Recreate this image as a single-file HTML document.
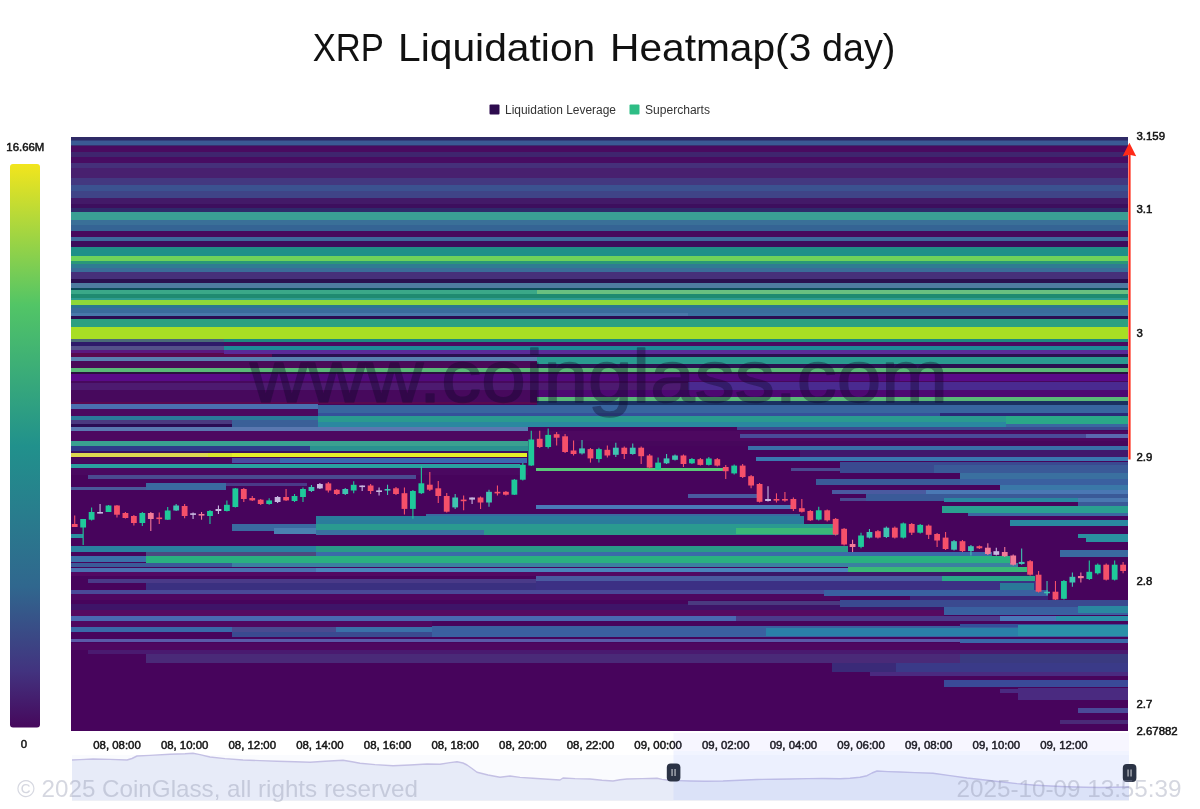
<!DOCTYPE html>
<html lang="en"><head><meta charset="utf-8"><title>XRP Liquidation Heatmap(3 day)</title>
<style>
html,body{margin:0;padding:0;background:#fff;}
body{width:1200px;height:809px;overflow:hidden;position:relative;font-family:"Liberation Sans", sans-serif;}
svg{position:absolute;left:0;top:0;display:block;}
text{font-family:"Liberation Sans", sans-serif;}
</style></head><body>
<svg width="1200" height="809" viewBox="0 0 1200 809">
<defs>
<linearGradient id="vm" x1="0" y1="0" x2="0" y2="1">
<stop offset="0" stop-color="#f2e51d"/>
<stop offset="0.25" stop-color="#52c566"/>
<stop offset="0.5" stop-color="#21918c"/>
<stop offset="0.75" stop-color="#30678e"/>
<stop offset="0.9" stop-color="#42337f"/>
<stop offset="1" stop-color="#46085c"/>
</linearGradient>
<clipPath id="plot"><rect x="71" y="137" width="1057" height="594"/></clipPath>
</defs>
<rect x="0" y="0" width="1200" height="809" fill="#ffffff"/>
<text x="312.7" y="60.8" font-size="39.5" fill="#111" textLength="71.2" lengthAdjust="spacingAndGlyphs">XRP</text>
<text x="398" y="60.8" font-size="39.5" fill="#111" textLength="197.3" lengthAdjust="spacingAndGlyphs">Liquidation</text>
<text x="610" y="60.8" font-size="39.5" fill="#111" textLength="201.3" lengthAdjust="spacingAndGlyphs">Heatmap(3</text>
<text x="822" y="60.8" font-size="39.5" fill="#111" textLength="73.3" lengthAdjust="spacingAndGlyphs">day)</text>
<rect x="489.5" y="104.5" width="10" height="10" rx="1" fill="#2d0b4e"/>
<text x="505" y="113.5" font-size="12" fill="#333" textLength="111" lengthAdjust="spacingAndGlyphs">Liquidation Leverage</text>
<rect x="629.5" y="104.5" width="10" height="10" rx="1" fill="#2ebd85"/>
<text x="645" y="113.5" font-size="12" fill="#333" textLength="65" lengthAdjust="spacingAndGlyphs">Supercharts</text>
<text x="6.3" y="150.9" font-size="11.4" fill="#151515" stroke="#151515" stroke-width="0.5">16.66M</text>
<rect x="10" y="164" width="30" height="563.5" rx="3" fill="url(#vm)"/>
<text x="24" y="748.3" font-size="11.4" fill="#151515" stroke="#151515" stroke-width="0.5" text-anchor="middle">0</text>
<g clip-path="url(#plot)" shape-rendering="crispEdges">
<rect x="71" y="137" width="1057" height="594" fill="#47045c"/>
<rect x="71" y="137" width="1057" height="2.5" fill="#2f2a66"/>
<rect x="71" y="139.5" width="1057" height="1.5" fill="#33407c"/>
<rect x="71" y="141" width="1057" height="4" fill="#3b5a94"/>
<rect x="71" y="145" width="1057" height="1" fill="#3a3070"/>
<rect x="71" y="146" width="1057" height="6" fill="#4a0b60"/>
<rect x="71" y="152" width="1057" height="5" fill="#3f256e"/>
<rect x="71" y="157" width="1057" height="5.5" fill="#480c62"/>
<rect x="71" y="162.5" width="1057" height="5" fill="#45307a"/>
<rect x="71" y="167.5" width="1057" height="10" fill="#48206f"/>
<rect x="71" y="177.5" width="1057" height="7.5" fill="#433880"/>
<rect x="71" y="185" width="1057" height="6" fill="#3b5290"/>
<rect x="71" y="191" width="1057" height="7" fill="#3f4487"/>
<rect x="71" y="198" width="1057" height="6" fill="#431a68"/>
<rect x="71" y="204" width="1057" height="4" fill="#3d0f5e"/>
<rect x="71" y="208" width="1057" height="4" fill="#2f2a6a"/>
<rect x="71" y="212" width="1057" height="8" fill="#3a9f94"/>
<rect x="71" y="220" width="1057" height="5" fill="#3a7098"/>
<rect x="71" y="225" width="1057" height="6" fill="#356494"/>
<rect x="71" y="231" width="1057" height="6" fill="#47095d"/>
<rect x="71" y="237" width="1057" height="4" fill="#3d6a9c"/>
<rect x="71" y="241" width="1057" height="6" fill="#3d0d5c"/>
<rect x="71" y="247" width="1057" height="9" fill="#1f9088"/>
<rect x="71" y="256" width="1057" height="5" fill="#6fd25a"/>
<rect x="71" y="261" width="1057" height="3" fill="#2a9878"/>
<rect x="71" y="264" width="1057" height="4" fill="#2f7c92"/>
<rect x="71" y="268" width="1057" height="3.5" fill="#3a6c98"/>
<rect x="71" y="271.5" width="1057" height="7.5" fill="#46307a"/>
<rect x="71" y="279" width="1057" height="3.5" fill="#2a1050"/>
<rect x="71" y="282.5" width="1057" height="5" fill="#4e7ba0"/>
<rect x="71" y="287.5" width="1057" height="2.5" fill="#0e4a5a"/>
<rect x="71" y="290" width="1057" height="4" fill="#3aa888"/>
<rect x="537" y="290" width="591" height="3.7" fill="#6ac080"/>
<rect x="71" y="294" width="1057" height="3.5" fill="#1f8a70"/>
<rect x="71" y="297.5" width="1057" height="2.5" fill="#2e9c90"/>
<rect x="71" y="300" width="1057" height="4.5" fill="#8ed83a"/>
<rect x="71" y="304.5" width="1057" height="3.5" fill="#2a7890"/>
<rect x="71" y="308" width="1057" height="4.5" fill="#3a6c9c"/>
<rect x="71" y="312.5" width="1057" height="3" fill="#4878aa"/>
<rect x="688" y="312.5" width="440" height="3" fill="#3a70a0"/>
<rect x="71" y="315.5" width="1057" height="3.5" fill="#2b0d52"/>
<rect x="71" y="319" width="1057" height="7.5" fill="#2ca080"/>
<rect x="71" y="326.5" width="1057" height="12" fill="#a8de24"/>
<rect x="71" y="338.5" width="153" height="3" fill="#4a6a78"/>
<rect x="224" y="338.5" width="904" height="3" fill="#1f8a80"/>
<rect x="71" y="341.5" width="153" height="4.5" fill="#2e1a6a"/>
<rect x="224" y="341.5" width="904" height="4.3" fill="#4a0a60"/>
<rect x="71" y="346" width="153" height="4" fill="#54508a"/>
<rect x="224" y="345.8" width="904" height="4.2" fill="#1f8a98"/>
<rect x="71" y="350" width="153" height="2.5" fill="#5a1a80"/>
<rect x="71" y="352.5" width="201" height="4" fill="#5a0a50"/>
<rect x="224" y="350" width="904" height="4" fill="#5a2a98"/>
<rect x="272" y="354" width="856" height="2.5" fill="#2a1050"/>
<rect x="71" y="356.5" width="466" height="4" fill="#5a80b0"/>
<rect x="71" y="360.5" width="466" height="7" fill="#4a0a58"/>
<rect x="537" y="356.5" width="591" height="7" fill="#2a9a90"/>
<rect x="537" y="363.5" width="591" height="4" fill="#2a1050"/>
<rect x="71" y="367.5" width="1057" height="4" fill="#5ab878"/>
<rect x="71" y="371.5" width="1057" height="2.5" fill="#2a1040"/>
<rect x="71" y="374" width="1057" height="7" fill="#5a0a88"/>
<rect x="240" y="374" width="660" height="7" fill="#520a7c"/>
<rect x="71" y="381" width="1057" height="20.5" fill="#47095d"/>
<rect x="71" y="383" width="1057" height="7" fill="#4d1a70"/>
<rect x="688" y="382" width="440" height="8" fill="#4a2a90"/>
<rect x="537" y="390" width="591" height="6.7" fill="#4e0872"/>
<rect x="537" y="397" width="591" height="3.8" fill="#5ab878"/>
<rect x="71" y="401.5" width="466" height="2.5" fill="#5a0a50"/>
<rect x="537" y="400.8" width="591" height="3.7" fill="#1a3060"/>
<rect x="71" y="404" width="247" height="4.5" fill="#4a70b0"/>
<rect x="71" y="408.5" width="247" height="7.5" fill="#4a0a60"/>
<rect x="318" y="404.5" width="810" height="8" fill="#38659f"/>
<rect x="318" y="412.5" width="810" height="3.3" fill="#34509a"/>
<rect x="940" y="412.5" width="188" height="3.3" fill="#2a2a78"/>
<rect x="71" y="416" width="247" height="4" fill="#2a7a9a"/>
<rect x="71" y="420" width="161" height="3.5" fill="#4a3a80"/>
<rect x="71" y="423.5" width="161" height="3" fill="#2a0d55"/>
<rect x="232" y="420" width="86" height="6.5" fill="#3a6098"/>
<rect x="318" y="415.8" width="810" height="5.7" fill="#2a9a90"/>
<rect x="318" y="421.5" width="810" height="5.2" fill="#2a88a0"/>
<rect x="1006" y="415.8" width="122" height="8.2" fill="#2aa888"/>
<rect x="1006" y="424" width="122" height="3.5" fill="#3a68a0"/>
<rect x="71" y="426.5" width="457" height="4.5" fill="#5a78b0"/>
<rect x="737" y="426.7" width="391" height="3.3" fill="#3a4a90"/>
<rect x="71" y="431" width="1057" height="10" fill="#4d0860"/>
<rect x="740" y="434" width="388" height="4" fill="#4a4a98"/>
<rect x="1086" y="434" width="42" height="4" fill="#5a68b0"/>
<rect x="71" y="441" width="457" height="5" fill="#3aa090"/>
<rect x="71" y="446" width="239" height="5" fill="#303a8a"/>
<rect x="310" y="446" width="218" height="5.6" fill="#2a9090"/>
<rect x="71" y="451" width="457" height="1.5" fill="#3a1060"/>
<rect x="71" y="452.5" width="137" height="4.8" fill="#dcd850"/>
<rect x="208" y="452.5" width="24" height="4.8" fill="#d8e42c"/>
<rect x="232" y="452.5" width="295" height="4.8" fill="#e4f028"/>
<rect x="71" y="457.5" width="161" height="5.5" fill="#47095d"/>
<rect x="232" y="457.5" width="48" height="5" fill="#4a4aa0"/>
<rect x="280" y="457.5" width="247" height="5.5" fill="#3a68b0"/>
<rect x="71" y="464" width="449" height="3.8" fill="#2aa0a0"/>
<rect x="71" y="468" width="457" height="7" fill="#4a0860"/>
<rect x="528" y="441" width="600" height="4.8" fill="#47075c"/>
<rect x="748" y="445.8" width="380" height="4.2" fill="#3a70a8"/>
<rect x="800" y="450" width="328" height="6.7" fill="#40186c"/>
<rect x="756" y="456.7" width="372" height="4.3" fill="#3a78b0"/>
<rect x="536" y="468" width="188" height="3" fill="#5ac878"/>
<rect x="88" y="475" width="328" height="4" fill="#4a4a90"/>
<rect x="71" y="486.5" width="75" height="3.5" fill="#4a5a9a"/>
<rect x="146" y="483" width="80" height="7" fill="#3a6aa0"/>
<rect x="226" y="482.5" width="81" height="3.5" fill="#4a3a88"/>
<rect x="791" y="467.7" width="337" height="2.8" fill="#4a4a90"/>
<rect x="840" y="462" width="288" height="11" fill="#3a4a90"/>
<rect x="934" y="465" width="194" height="8" fill="#3a5a98"/>
<rect x="960" y="473" width="168" height="6" fill="#3a70a0"/>
<rect x="816" y="479" width="312" height="6" fill="#3a5a98"/>
<rect x="960" y="479" width="168" height="6" fill="#3a60a0"/>
<rect x="1000" y="485" width="128" height="5" fill="#3a78a8"/>
<rect x="832" y="490" width="296" height="4" fill="#4a5aa0"/>
<rect x="926" y="490" width="202" height="4.5" fill="#4a78b4"/>
<rect x="960" y="494.5" width="168" height="3" fill="#402070"/>
<rect x="866" y="494" width="262" height="7" fill="#3a5a98"/>
<rect x="840" y="497.8" width="26" height="3.2" fill="#4a4a90"/>
<rect x="944" y="497.8" width="184" height="4.2" fill="#2a88a0"/>
<rect x="1078" y="497.8" width="50" height="4.2" fill="#4a78b0"/>
<rect x="1078" y="502" width="50" height="3.6" fill="#3a5a98"/>
<rect x="942" y="505.6" width="186" height="6.9" fill="#2aa090"/>
<rect x="968" y="512.5" width="160" height="3" fill="#3a68a0"/>
<rect x="1010" y="520" width="118" height="6.4" fill="#2a88a0"/>
<rect x="1078" y="534" width="50" height="3.5" fill="#2a90a0"/>
<rect x="1086" y="537.5" width="42" height="4.1" fill="#2a90a0"/>
<rect x="1060" y="549.6" width="68" height="7.4" fill="#3a6aa0"/>
<rect x="688" y="494" width="69" height="3.5" fill="#4a5aa0"/>
<rect x="536" y="505" width="256" height="4" fill="#4a7ab8"/>
<rect x="71" y="572.4" width="629" height="3.6" fill="#520862"/>
<rect x="71" y="594" width="769" height="6" fill="#4e0860"/>
<rect x="71" y="609.5" width="873" height="6" fill="#560a60"/>
<rect x="71" y="620.5" width="361" height="6" fill="#500860"/>
<rect x="71" y="642.5" width="1057" height="7.5" fill="#4e0860"/>
<rect x="71" y="534" width="12" height="4" fill="#2a90a0"/>
<rect x="232" y="524" width="84" height="7" fill="#3a6aa0"/>
<rect x="274" y="528" width="42" height="6" fill="#4a80b0"/>
<rect x="426" y="514" width="374" height="4" fill="#3a6aa0"/>
<rect x="316" y="516" width="488" height="7.5" fill="#2a7c9c"/>
<rect x="316" y="523.5" width="517" height="6.5" fill="#2a9a90"/>
<rect x="316" y="530" width="168" height="5" fill="#3a70a0"/>
<rect x="484" y="530" width="354" height="5" fill="#2a9a88"/>
<rect x="736" y="528" width="97" height="6" fill="#3ab878"/>
<rect x="71" y="546" width="245" height="5.5" fill="#2a80a0"/>
<rect x="316" y="546" width="532" height="5.5" fill="#2a9a88"/>
<rect x="146" y="551.5" width="170" height="4.8" fill="#4a4a80"/>
<rect x="316" y="551.5" width="676" height="4.8" fill="#3a6aa8"/>
<rect x="71" y="556.3" width="75" height="5.7" fill="#3a70a8"/>
<rect x="146" y="556.3" width="864" height="6.2" fill="#2ab080"/>
<rect x="71" y="562.5" width="161" height="4.5" fill="#3a5a98"/>
<rect x="232" y="562.5" width="786" height="4.5" fill="#3a80a0"/>
<rect x="71" y="567.5" width="245" height="4.8" fill="#4a70b0"/>
<rect x="316" y="567.5" width="532" height="4.8" fill="#4a84bc"/>
<rect x="848" y="567" width="179" height="5.5" fill="#3ab878"/>
<rect x="700" y="572.3" width="334" height="3.7" fill="#3a1868"/>
<rect x="88" y="579" width="448" height="4" fill="#4a3a88"/>
<rect x="536" y="576" width="406" height="4.5" fill="#4a5aa0"/>
<rect x="942" y="576" width="93" height="4.5" fill="#2aa888"/>
<rect x="146" y="583" width="894" height="7" fill="#3a3080"/>
<rect x="536" y="580.5" width="502" height="9.5" fill="#3c3084"/>
<rect x="1000" y="583" width="34" height="7" fill="#2a7898"/>
<rect x="71" y="590" width="975" height="4" fill="#4a4a98"/>
<rect x="824" y="590" width="224" height="6" fill="#3a60a0"/>
<rect x="71" y="604" width="929" height="6" fill="#3e1468"/>
<rect x="688" y="601" width="440" height="4" fill="#4a3a80"/>
<rect x="840" y="600" width="288" height="6.5" fill="#3a4a90"/>
<rect x="944" y="606.5" width="184" height="8.5" fill="#3a60a0"/>
<rect x="1078" y="606" width="50" height="7" fill="#2a88a0"/>
<rect x="71" y="616" width="665" height="4.5" fill="#4a68b0"/>
<rect x="736" y="616" width="264" height="4.5" fill="#4c3a8a"/>
<rect x="1000" y="616" width="128" height="4.5" fill="#4a78b8"/>
<rect x="1056" y="616" width="72" height="5" fill="#2a90a8"/>
<rect x="71" y="627" width="161" height="5.4" fill="#3a68a8"/>
<rect x="232" y="627" width="104" height="5.4" fill="#4a4a90"/>
<rect x="232" y="632.4" width="200" height="4.6" fill="#3a4a90"/>
<rect x="336" y="627" width="96" height="5.4" fill="#3a70a8"/>
<rect x="432" y="626" width="696" height="11" fill="#3a60a0"/>
<rect x="766" y="628" width="362" height="7.5" fill="#2a80a8"/>
<rect x="960" y="624" width="168" height="3" fill="#34509a"/>
<rect x="1018" y="625" width="110" height="11" fill="#2a90a8"/>
<rect x="71" y="638.6" width="1057" height="3.8" fill="#5a5aa8"/>
<rect x="960" y="638.6" width="168" height="4.4" fill="#3a68a8"/>
<rect x="88" y="650" width="1040" height="4" fill="#4a1a70"/>
<rect x="146" y="654" width="982" height="9" fill="#4a2a78"/>
<rect x="960" y="654" width="168" height="9" fill="#3a3a80"/>
<rect x="832" y="663" width="296" height="9" fill="#3a2a78"/>
<rect x="896" y="663" width="232" height="9" fill="#3a3a88"/>
<rect x="870" y="672" width="258" height="4" fill="#4a2a80"/>
<rect x="944" y="679.6" width="184" height="7.4" fill="#3a4a98"/>
<rect x="1018" y="688" width="110" height="12" fill="#4a2a80"/>
<rect x="1000" y="689" width="18" height="4" fill="#4a2a80"/>
<rect x="910" y="596" width="138" height="4" fill="#3a2478"/>
<rect x="1078" y="708" width="50" height="5" fill="#4a4a98"/>
<rect x="1060" y="720" width="68" height="4" fill="#4a2a78"/>
</g>
<g clip-path="url(#plot)">
<line x1="74.7" x2="74.7" y1="515.5" y2="527" stroke="#f5506a" stroke-width="1.1"/>
<rect x="71.8" y="524" width="5.8" height="3" fill="#f5506a"/>
<line x1="83.16" x2="83.16" y1="519" y2="545" stroke="#1fc99a" stroke-width="1.1"/>
<rect x="80.25" y="519" width="5.8" height="8.5" fill="#1fc99a"/>
<line x1="91.61" x2="91.61" y1="507.6" y2="520.4" stroke="#1fc99a" stroke-width="1.1"/>
<rect x="88.71" y="512" width="5.8" height="7.7" fill="#1fc99a"/>
<line x1="100.06" x2="100.06" y1="504" y2="513.3" stroke="#c8b8e0" stroke-width="1.1"/>
<rect x="97.16" y="512" width="5.8" height="1.6" fill="#c8b8e0"/>
<line x1="108.52" x2="108.52" y1="505" y2="512" stroke="#1fc99a" stroke-width="1.1"/>
<rect x="105.62" y="505.5" width="5.8" height="6.5" fill="#1fc99a"/>
<line x1="116.97" x2="116.97" y1="505" y2="517.5" stroke="#f5506a" stroke-width="1.1"/>
<rect x="114.07" y="505.5" width="5.8" height="9.2" fill="#f5506a"/>
<line x1="125.43" x2="125.43" y1="512" y2="518.5" stroke="#f5506a" stroke-width="1.1"/>
<rect x="122.53" y="513" width="5.8" height="5" fill="#f5506a"/>
<line x1="133.88" x2="133.88" y1="515" y2="525.4" stroke="#f5506a" stroke-width="1.1"/>
<rect x="130.98" y="516" width="5.8" height="7" fill="#f5506a"/>
<line x1="142.34" x2="142.34" y1="512" y2="526" stroke="#1fc99a" stroke-width="1.1"/>
<rect x="139.44" y="513" width="5.8" height="10" fill="#1fc99a"/>
<line x1="150.8" x2="150.8" y1="512" y2="531" stroke="#f27a98" stroke-width="1.1"/>
<rect x="147.9" y="513" width="5.8" height="6" fill="#f27a98"/>
<line x1="159.25" x2="159.25" y1="512.6" y2="524" stroke="#f5506a" stroke-width="1.1"/>
<rect x="156.35" y="517.5" width="5.8" height="1.6" fill="#f5506a"/>
<line x1="167.7" x2="167.7" y1="507" y2="520" stroke="#1fc99a" stroke-width="1.1"/>
<rect x="164.8" y="510.5" width="5.8" height="9.2" fill="#1fc99a"/>
<line x1="176.16" x2="176.16" y1="504" y2="511" stroke="#3fc4b0" stroke-width="1.1"/>
<rect x="173.26" y="505.5" width="5.8" height="5" fill="#3fc4b0"/>
<line x1="184.62" x2="184.62" y1="504" y2="518.3" stroke="#f5506a" stroke-width="1.1"/>
<rect x="181.72" y="506" width="5.8" height="10" fill="#f5506a"/>
<line x1="193.07" x2="193.07" y1="512.6" y2="519" stroke="#c8b8e0" stroke-width="1.1"/>
<rect x="190.17" y="513.3" width="5.8" height="1.6" fill="#c8b8e0"/>
<line x1="201.53" x2="201.53" y1="512" y2="519.7" stroke="#f27a98" stroke-width="1.1"/>
<rect x="198.62" y="514" width="5.8" height="1.6" fill="#f27a98"/>
<line x1="209.98" x2="209.98" y1="510" y2="524" stroke="#1fc99a" stroke-width="1.1"/>
<rect x="207.08" y="511" width="5.8" height="5" fill="#1fc99a"/>
<line x1="218.44" x2="218.44" y1="505.5" y2="514" stroke="#c8b8e0" stroke-width="1.1"/>
<rect x="215.53" y="509" width="5.8" height="2" fill="#c8b8e0"/>
<line x1="226.89" x2="226.89" y1="500.5" y2="511.5" stroke="#1fc99a" stroke-width="1.1"/>
<rect x="223.99" y="504.8" width="5.8" height="6.2" fill="#1fc99a"/>
<line x1="235.35" x2="235.35" y1="488" y2="507.5" stroke="#1fc99a" stroke-width="1.1"/>
<rect x="232.45" y="488.4" width="5.8" height="18.6" fill="#1fc99a"/>
<line x1="243.8" x2="243.8" y1="488" y2="502" stroke="#f5506a" stroke-width="1.1"/>
<rect x="240.9" y="489" width="5.8" height="10" fill="#f5506a"/>
<line x1="252.25" x2="252.25" y1="496" y2="501" stroke="#f5506a" stroke-width="1.1"/>
<rect x="249.35" y="498" width="5.8" height="2.4" fill="#f5506a"/>
<line x1="260.71" x2="260.71" y1="499" y2="505" stroke="#f5506a" stroke-width="1.1"/>
<rect x="257.81" y="499.7" width="5.8" height="4.3" fill="#f5506a"/>
<line x1="269.17" x2="269.17" y1="498.3" y2="504.7" stroke="#1fc99a" stroke-width="1.1"/>
<rect x="266.27" y="500.4" width="5.8" height="3.6" fill="#1fc99a"/>
<line x1="277.62" x2="277.62" y1="496" y2="503" stroke="#c8b8e0" stroke-width="1.1"/>
<rect x="274.72" y="497" width="5.8" height="5" fill="#c8b8e0"/>
<line x1="286.07" x2="286.07" y1="489" y2="501" stroke="#f5506a" stroke-width="1.1"/>
<rect x="283.18" y="497" width="5.8" height="3.4" fill="#f5506a"/>
<line x1="294.53" x2="294.53" y1="494" y2="502" stroke="#1fc99a" stroke-width="1.1"/>
<rect x="291.63" y="496" width="5.8" height="5" fill="#1fc99a"/>
<line x1="302.99" x2="302.99" y1="487.6" y2="501.9" stroke="#1fc99a" stroke-width="1.1"/>
<rect x="300.09" y="489" width="5.8" height="8" fill="#1fc99a"/>
<line x1="311.44" x2="311.44" y1="485" y2="492" stroke="#3fc4b0" stroke-width="1.1"/>
<rect x="308.54" y="487" width="5.8" height="4" fill="#3fc4b0"/>
<line x1="319.89" x2="319.89" y1="483" y2="489" stroke="#c8b8e0" stroke-width="1.1"/>
<rect x="317" y="484" width="5.8" height="4.4" fill="#c8b8e0"/>
<line x1="328.35" x2="328.35" y1="482" y2="492.6" stroke="#f5506a" stroke-width="1.1"/>
<rect x="325.45" y="483.4" width="5.8" height="7.1" fill="#f5506a"/>
<line x1="336.81" x2="336.81" y1="489" y2="495" stroke="#f5506a" stroke-width="1.1"/>
<rect x="333.91" y="489.8" width="5.8" height="4.2" fill="#f5506a"/>
<line x1="345.26" x2="345.26" y1="488" y2="495" stroke="#3fc4b0" stroke-width="1.1"/>
<rect x="342.36" y="489" width="5.8" height="5" fill="#3fc4b0"/>
<line x1="353.71" x2="353.71" y1="481.2" y2="493.3" stroke="#1fc99a" stroke-width="1.1"/>
<rect x="350.81" y="484.8" width="5.8" height="5.7" fill="#1fc99a"/>
<line x1="362.17" x2="362.17" y1="485.5" y2="491" stroke="#c8b8e0" stroke-width="1.1"/>
<rect x="359.27" y="485.5" width="5.8" height="1.6" fill="#c8b8e0"/>
<line x1="370.62" x2="370.62" y1="484" y2="494" stroke="#f5506a" stroke-width="1.1"/>
<rect x="367.73" y="485.5" width="5.8" height="5.5" fill="#f5506a"/>
<line x1="379.08" x2="379.08" y1="487.5" y2="495.4" stroke="#c8b8e0" stroke-width="1.1"/>
<rect x="376.18" y="490.4" width="5.8" height="1.6" fill="#c8b8e0"/>
<line x1="387.53" x2="387.53" y1="484.7" y2="495" stroke="#3fc4b0" stroke-width="1.1"/>
<rect x="384.63" y="489" width="5.8" height="1.6" fill="#3fc4b0"/>
<line x1="395.99" x2="395.99" y1="487" y2="495" stroke="#f5506a" stroke-width="1.1"/>
<rect x="393.09" y="488.3" width="5.8" height="5.7" fill="#f5506a"/>
<line x1="404.44" x2="404.44" y1="487.5" y2="514.5" stroke="#f5506a" stroke-width="1.1"/>
<rect x="401.55" y="493.2" width="5.8" height="15.7" fill="#f5506a"/>
<line x1="412.9" x2="412.9" y1="490" y2="518.8" stroke="#1fc99a" stroke-width="1.1"/>
<rect x="410" y="491" width="5.8" height="17.9" fill="#1fc99a"/>
<line x1="421.36" x2="421.36" y1="466.2" y2="494" stroke="#1fc99a" stroke-width="1.1"/>
<rect x="418.46" y="483.3" width="5.8" height="9.9" fill="#1fc99a"/>
<line x1="429.81" x2="429.81" y1="472" y2="491" stroke="#f5506a" stroke-width="1.1"/>
<rect x="426.91" y="484.7" width="5.8" height="5" fill="#f5506a"/>
<line x1="438.26" x2="438.26" y1="481" y2="503" stroke="#f5506a" stroke-width="1.1"/>
<rect x="435.37" y="488.3" width="5.8" height="7.7" fill="#f5506a"/>
<line x1="446.72" x2="446.72" y1="493" y2="512.5" stroke="#f5506a" stroke-width="1.1"/>
<rect x="443.82" y="496" width="5.8" height="15.7" fill="#f5506a"/>
<line x1="455.18" x2="455.18" y1="494" y2="509" stroke="#3fc4b0" stroke-width="1.1"/>
<rect x="452.28" y="497.5" width="5.8" height="9.9" fill="#3fc4b0"/>
<line x1="463.63" x2="463.63" y1="495.4" y2="510.3" stroke="#f5506a" stroke-width="1.1"/>
<rect x="460.73" y="499.6" width="5.8" height="1.6" fill="#f5506a"/>
<line x1="472.08" x2="472.08" y1="497.5" y2="504" stroke="#c8b8e0" stroke-width="1.1"/>
<rect x="469.19" y="497.5" width="5.8" height="2.1" fill="#c8b8e0"/>
<line x1="480.54" x2="480.54" y1="496.5" y2="509" stroke="#f5506a" stroke-width="1.1"/>
<rect x="477.64" y="497.5" width="5.8" height="5" fill="#f5506a"/>
<line x1="489" x2="489" y1="489.7" y2="506.7" stroke="#3fc4b0" stroke-width="1.1"/>
<rect x="486.1" y="491.8" width="5.8" height="10.7" fill="#3fc4b0"/>
<line x1="497.45" x2="497.45" y1="485.4" y2="495.4" stroke="#f5506a" stroke-width="1.1"/>
<rect x="494.55" y="491.8" width="5.8" height="1.6" fill="#f5506a"/>
<line x1="505.9" x2="505.9" y1="491" y2="495.5" stroke="#f5506a" stroke-width="1.1"/>
<rect x="503" y="491.8" width="5.8" height="2.9" fill="#f5506a"/>
<line x1="514.36" x2="514.36" y1="479" y2="495" stroke="#1fc99a" stroke-width="1.1"/>
<rect x="511.46" y="479.7" width="5.8" height="15" fill="#1fc99a"/>
<line x1="522.82" x2="522.82" y1="463" y2="480.5" stroke="#1fc99a" stroke-width="1.1"/>
<rect x="519.92" y="464.8" width="5.8" height="14.9" fill="#1fc99a"/>
<line x1="531.27" x2="531.27" y1="430.7" y2="466" stroke="#1fc99a" stroke-width="1.1"/>
<rect x="528.37" y="439.5" width="5.8" height="26" fill="#1fc99a"/>
<line x1="539.73" x2="539.73" y1="430.7" y2="448" stroke="#f5506a" stroke-width="1.1"/>
<rect x="536.83" y="438.8" width="5.8" height="8.2" fill="#f5506a"/>
<line x1="548.18" x2="548.18" y1="428.5" y2="448.4" stroke="#1fc99a" stroke-width="1.1"/>
<rect x="545.28" y="434.9" width="5.8" height="12.1" fill="#1fc99a"/>
<line x1="556.63" x2="556.63" y1="432" y2="445.6" stroke="#f5506a" stroke-width="1.1"/>
<rect x="553.74" y="434.2" width="5.8" height="3.5" fill="#f5506a"/>
<line x1="565.09" x2="565.09" y1="434" y2="453" stroke="#f5506a" stroke-width="1.1"/>
<rect x="562.19" y="436.3" width="5.8" height="15.7" fill="#f5506a"/>
<line x1="573.55" x2="573.55" y1="440.6" y2="455.5" stroke="#f5506a" stroke-width="1.1"/>
<rect x="570.65" y="450.5" width="5.8" height="3.5" fill="#f5506a"/>
<line x1="582" x2="582" y1="439.9" y2="454.5" stroke="#3fc4b0" stroke-width="1.1"/>
<rect x="579.1" y="448.4" width="5.8" height="5" fill="#3fc4b0"/>
<line x1="590.46" x2="590.46" y1="448" y2="462.6" stroke="#f5506a" stroke-width="1.1"/>
<rect x="587.56" y="449.1" width="5.8" height="9.3" fill="#f5506a"/>
<line x1="598.91" x2="598.91" y1="447.7" y2="462.6" stroke="#1fc99a" stroke-width="1.1"/>
<rect x="596.01" y="449.1" width="5.8" height="9.9" fill="#1fc99a"/>
<line x1="607.37" x2="607.37" y1="445.6" y2="457.6" stroke="#f5506a" stroke-width="1.1"/>
<rect x="604.47" y="449.8" width="5.8" height="5.7" fill="#f5506a"/>
<line x1="615.82" x2="615.82" y1="442.7" y2="457" stroke="#3fc4b0" stroke-width="1.1"/>
<rect x="612.92" y="447.7" width="5.8" height="7.1" fill="#3fc4b0"/>
<line x1="624.28" x2="624.28" y1="446.5" y2="459" stroke="#f5506a" stroke-width="1.1"/>
<rect x="621.38" y="447.7" width="5.8" height="6.3" fill="#f5506a"/>
<line x1="632.73" x2="632.73" y1="443.4" y2="454.8" stroke="#3fc4b0" stroke-width="1.1"/>
<rect x="629.83" y="447.7" width="5.8" height="6.3" fill="#3fc4b0"/>
<line x1="641.19" x2="641.19" y1="446.5" y2="464" stroke="#f5506a" stroke-width="1.1"/>
<rect x="638.29" y="447.7" width="5.8" height="8.5" fill="#f5506a"/>
<line x1="649.64" x2="649.64" y1="454" y2="468.5" stroke="#f5506a" stroke-width="1.1"/>
<rect x="646.74" y="455.5" width="5.8" height="12.1" fill="#f5506a"/>
<line x1="658.1" x2="658.1" y1="457.6" y2="470" stroke="#1fc99a" stroke-width="1.1"/>
<rect x="655.2" y="462.6" width="5.8" height="7.1" fill="#1fc99a"/>
<line x1="666.55" x2="666.55" y1="454" y2="464" stroke="#3fc4b0" stroke-width="1.1"/>
<rect x="663.65" y="458.4" width="5.8" height="4.9" fill="#3fc4b0"/>
<line x1="675" x2="675" y1="454.5" y2="460.5" stroke="#3fc4b0" stroke-width="1.1"/>
<rect x="672.11" y="455.5" width="5.8" height="4.3" fill="#3fc4b0"/>
<line x1="683.46" x2="683.46" y1="454.5" y2="467" stroke="#f5506a" stroke-width="1.1"/>
<rect x="680.56" y="455.5" width="5.8" height="8.5" fill="#f5506a"/>
<line x1="691.92" x2="691.92" y1="458" y2="464" stroke="#1fc99a" stroke-width="1.1"/>
<rect x="689.02" y="459" width="5.8" height="4.3" fill="#1fc99a"/>
<line x1="700.37" x2="700.37" y1="458" y2="465.6" stroke="#f5506a" stroke-width="1.1"/>
<rect x="697.47" y="459.2" width="5.8" height="5.7" fill="#f5506a"/>
<line x1="708.83" x2="708.83" y1="457" y2="465.6" stroke="#1fc99a" stroke-width="1.1"/>
<rect x="705.93" y="458.5" width="5.8" height="6.4" fill="#1fc99a"/>
<line x1="717.28" x2="717.28" y1="458" y2="466.5" stroke="#f5506a" stroke-width="1.1"/>
<rect x="714.38" y="459.2" width="5.8" height="6.4" fill="#f5506a"/>
<line x1="725.74" x2="725.74" y1="465" y2="479" stroke="#f5506a" stroke-width="1.1"/>
<rect x="722.84" y="467" width="5.8" height="4.2" fill="#f5506a"/>
<line x1="734.19" x2="734.19" y1="464.5" y2="474.5" stroke="#1fc99a" stroke-width="1.1"/>
<rect x="731.29" y="465.6" width="5.8" height="7.8" fill="#1fc99a"/>
<line x1="742.65" x2="742.65" y1="464" y2="478" stroke="#f5506a" stroke-width="1.1"/>
<rect x="739.75" y="465.6" width="5.8" height="11.4" fill="#f5506a"/>
<line x1="751.1" x2="751.1" y1="475" y2="488.3" stroke="#f5506a" stroke-width="1.1"/>
<rect x="748.2" y="476.2" width="5.8" height="9.3" fill="#f5506a"/>
<line x1="759.56" x2="759.56" y1="483" y2="502.5" stroke="#f5506a" stroke-width="1.1"/>
<rect x="756.66" y="484" width="5.8" height="17.8" fill="#f5506a"/>
<line x1="768.01" x2="768.01" y1="486.2" y2="501.5" stroke="#c8b8e0" stroke-width="1.1"/>
<rect x="765.11" y="499" width="5.8" height="2" fill="#c8b8e0"/>
<line x1="776.47" x2="776.47" y1="493.3" y2="502.5" stroke="#f5506a" stroke-width="1.1"/>
<rect x="773.57" y="499" width="5.8" height="1.6" fill="#f5506a"/>
<line x1="784.92" x2="784.92" y1="491.9" y2="501.8" stroke="#f5506a" stroke-width="1.1"/>
<rect x="782.02" y="499" width="5.8" height="1.6" fill="#f5506a"/>
<line x1="793.38" x2="793.38" y1="497.5" y2="511" stroke="#f5506a" stroke-width="1.1"/>
<rect x="790.48" y="499" width="5.8" height="10" fill="#f5506a"/>
<line x1="801.83" x2="801.83" y1="499" y2="512.5" stroke="#f5506a" stroke-width="1.1"/>
<rect x="798.93" y="508.2" width="5.8" height="3.6" fill="#f5506a"/>
<line x1="810.29" x2="810.29" y1="510" y2="521" stroke="#f5506a" stroke-width="1.1"/>
<rect x="807.39" y="511" width="5.8" height="9.3" fill="#f5506a"/>
<line x1="818.74" x2="818.74" y1="506.8" y2="520.5" stroke="#1fc99a" stroke-width="1.1"/>
<rect x="815.84" y="510.3" width="5.8" height="9.3" fill="#1fc99a"/>
<line x1="827.2" x2="827.2" y1="509.5" y2="521.5" stroke="#f5506a" stroke-width="1.1"/>
<rect x="824.3" y="510.3" width="5.8" height="10" fill="#f5506a"/>
<line x1="835.65" x2="835.65" y1="518" y2="535.5" stroke="#f5506a" stroke-width="1.1"/>
<rect x="832.75" y="518.9" width="5.8" height="15.6" fill="#f5506a"/>
<line x1="844.11" x2="844.11" y1="528" y2="545.5" stroke="#f5506a" stroke-width="1.1"/>
<rect x="841.21" y="528.8" width="5.8" height="15.7" fill="#f5506a"/>
<line x1="852.56" x2="852.56" y1="539.8" y2="551.9" stroke="#f27a98" stroke-width="1.1"/>
<rect x="849.66" y="544" width="5.8" height="3" fill="#f27a98"/>
<line x1="861.02" x2="861.02" y1="532.7" y2="548.3" stroke="#1fc99a" stroke-width="1.1"/>
<rect x="858.12" y="535.5" width="5.8" height="11.4" fill="#1fc99a"/>
<line x1="869.47" x2="869.47" y1="529" y2="538.4" stroke="#3fc4b0" stroke-width="1.1"/>
<rect x="866.57" y="532" width="5.8" height="5.6" fill="#3fc4b0"/>
<line x1="877.93" x2="877.93" y1="530" y2="538.5" stroke="#f5506a" stroke-width="1.1"/>
<rect x="875.03" y="531.2" width="5.8" height="6.4" fill="#f5506a"/>
<line x1="886.38" x2="886.38" y1="526.5" y2="538" stroke="#3fc4b0" stroke-width="1.1"/>
<rect x="883.48" y="527.7" width="5.8" height="9.3" fill="#3fc4b0"/>
<line x1="894.84" x2="894.84" y1="526.5" y2="538.5" stroke="#f5506a" stroke-width="1.1"/>
<rect x="891.94" y="527.7" width="5.8" height="9.9" fill="#f5506a"/>
<line x1="903.29" x2="903.29" y1="522.5" y2="538.5" stroke="#1fc99a" stroke-width="1.1"/>
<rect x="900.39" y="523.4" width="5.8" height="14.2" fill="#1fc99a"/>
<line x1="911.75" x2="911.75" y1="523" y2="535" stroke="#f5506a" stroke-width="1.1"/>
<rect x="908.85" y="524" width="5.8" height="8.7" fill="#f5506a"/>
<line x1="920.2" x2="920.2" y1="524" y2="533.5" stroke="#1fc99a" stroke-width="1.1"/>
<rect x="917.3" y="524.9" width="5.8" height="7.8" fill="#1fc99a"/>
<line x1="928.66" x2="928.66" y1="524.5" y2="539" stroke="#f5506a" stroke-width="1.1"/>
<rect x="925.76" y="525.6" width="5.8" height="9.2" fill="#f5506a"/>
<line x1="937.11" x2="937.11" y1="533" y2="546.9" stroke="#f5506a" stroke-width="1.1"/>
<rect x="934.21" y="534" width="5.8" height="6.5" fill="#f5506a"/>
<line x1="945.57" x2="945.57" y1="532" y2="550" stroke="#f5506a" stroke-width="1.1"/>
<rect x="942.67" y="537.6" width="5.8" height="11.4" fill="#f5506a"/>
<line x1="954.02" x2="954.02" y1="540" y2="550.5" stroke="#3fc4b0" stroke-width="1.1"/>
<rect x="951.12" y="541.2" width="5.8" height="8.5" fill="#3fc4b0"/>
<line x1="962.48" x2="962.48" y1="540" y2="552" stroke="#f5506a" stroke-width="1.1"/>
<rect x="959.58" y="541.2" width="5.8" height="9.9" fill="#f5506a"/>
<line x1="970.93" x2="970.93" y1="545" y2="555.4" stroke="#3fc4b0" stroke-width="1.1"/>
<rect x="968.03" y="546.2" width="5.8" height="4.9" fill="#3fc4b0"/>
<line x1="979.39" x2="979.39" y1="545.5" y2="549" stroke="#f5506a" stroke-width="1.1"/>
<rect x="976.49" y="546.2" width="5.8" height="2.1" fill="#f5506a"/>
<line x1="987.84" x2="987.84" y1="543.3" y2="555" stroke="#f27a98" stroke-width="1.1"/>
<rect x="984.94" y="547.7" width="5.8" height="6.3" fill="#f27a98"/>
<line x1="996.3" x2="996.3" y1="547.7" y2="555.5" stroke="#c8b8e0" stroke-width="1.1"/>
<rect x="993.4" y="551.2" width="5.8" height="3.6" fill="#c8b8e0"/>
<line x1="1004.75" x2="1004.75" y1="547" y2="557" stroke="#f27a98" stroke-width="1.1"/>
<rect x="1001.85" y="552" width="5.8" height="4.2" fill="#f27a98"/>
<line x1="1013.21" x2="1013.21" y1="554.5" y2="565.5" stroke="#f27a98" stroke-width="1.1"/>
<rect x="1010.31" y="555.5" width="5.8" height="9.2" fill="#f27a98"/>
<line x1="1021.66" x2="1021.66" y1="548.4" y2="564.7" stroke="#3fc4b0" stroke-width="1.1"/>
<rect x="1018.76" y="561.9" width="5.8" height="2.1" fill="#3fc4b0"/>
<line x1="1030.12" x2="1030.12" y1="560" y2="575.5" stroke="#f5506a" stroke-width="1.1"/>
<rect x="1027.21" y="561.2" width="5.8" height="13.5" fill="#f5506a"/>
<line x1="1038.57" x2="1038.57" y1="571" y2="592.5" stroke="#f5506a" stroke-width="1.1"/>
<rect x="1035.67" y="574.7" width="5.8" height="17" fill="#f5506a"/>
<line x1="1047.03" x2="1047.03" y1="581" y2="595.3" stroke="#3fc4b0" stroke-width="1.1"/>
<rect x="1044.12" y="591.7" width="5.8" height="1.6" fill="#3fc4b0"/>
<line x1="1055.48" x2="1055.48" y1="581" y2="600" stroke="#f5506a" stroke-width="1.1"/>
<rect x="1052.58" y="591.7" width="5.8" height="7.8" fill="#f5506a"/>
<line x1="1063.93" x2="1063.93" y1="580" y2="599.5" stroke="#1fc99a" stroke-width="1.1"/>
<rect x="1061.03" y="581" width="5.8" height="17.8" fill="#1fc99a"/>
<line x1="1072.39" x2="1072.39" y1="572.5" y2="586.8" stroke="#3fc4b0" stroke-width="1.1"/>
<rect x="1069.49" y="576.8" width="5.8" height="5.7" fill="#3fc4b0"/>
<line x1="1080.85" x2="1080.85" y1="572.5" y2="582.5" stroke="#f27a98" stroke-width="1.1"/>
<rect x="1077.94" y="576" width="5.8" height="2.2" fill="#f27a98"/>
<line x1="1089.3" x2="1089.3" y1="560.5" y2="580" stroke="#1fc99a" stroke-width="1.1"/>
<rect x="1086.4" y="571.8" width="5.8" height="7.2" fill="#1fc99a"/>
<line x1="1097.76" x2="1097.76" y1="563.5" y2="574.5" stroke="#1fc99a" stroke-width="1.1"/>
<rect x="1094.86" y="564.7" width="5.8" height="8.6" fill="#1fc99a"/>
<line x1="1106.21" x2="1106.21" y1="563.5" y2="580.5" stroke="#f5506a" stroke-width="1.1"/>
<rect x="1103.31" y="564.7" width="5.8" height="15" fill="#f5506a"/>
<line x1="1114.66" x2="1114.66" y1="560.5" y2="580.5" stroke="#1fc99a" stroke-width="1.1"/>
<rect x="1111.76" y="564.7" width="5.8" height="15" fill="#1fc99a"/>
<line x1="1123.12" x2="1123.12" y1="561.9" y2="573.3" stroke="#f5506a" stroke-width="1.1"/>
<rect x="1120.22" y="564.7" width="5.8" height="6.3" fill="#f5506a"/>
</g>
<g opacity="0.36"><text x="250" y="401.5" font-size="75" fill="#0c0626" stroke="#0c0626" stroke-width="1.5" stroke-linejoin="round" textLength="698" lengthAdjust="spacingAndGlyphs">www.coinglass.com</text></g>
<line x1="1129.5" x2="1129.5" y1="150" y2="459.5" stroke="#ff2a18" stroke-width="2.2"/>
<path d="M1129.4 142.8 L1136.2 156.3 L1129.4 154.8 L1122.6 156.3 Z" fill="#ff2a18"/>
<text x="1136.5" y="140" font-size="11.4" fill="#111" stroke="#111" stroke-width="0.5">3.159</text>
<text x="1136.5" y="213.2" font-size="11.4" fill="#111" stroke="#111" stroke-width="0.5">3.1</text>
<text x="1136.5" y="337" font-size="11.4" fill="#111" stroke="#111" stroke-width="0.5">3</text>
<text x="1136.5" y="460.8" font-size="11.4" fill="#111" stroke="#111" stroke-width="0.5">2.9</text>
<text x="1136.5" y="584.5" font-size="11.4" fill="#111" stroke="#111" stroke-width="0.5">2.8</text>
<text x="1136.5" y="708.2" font-size="11.4" fill="#111" stroke="#111" stroke-width="0.5">2.7</text>
<text x="1136.5" y="734.5" font-size="11.4" fill="#111" stroke="#111" stroke-width="0.5">2.67882</text>
<text x="117" y="748.5" font-size="11.4" fill="#151515" stroke="#151515" stroke-width="0.5" text-anchor="middle">08, 08:00</text>
<text x="184.64" y="748.5" font-size="11.4" fill="#151515" stroke="#151515" stroke-width="0.5" text-anchor="middle">08, 10:00</text>
<text x="252.28" y="748.5" font-size="11.4" fill="#151515" stroke="#151515" stroke-width="0.5" text-anchor="middle">08, 12:00</text>
<text x="319.92" y="748.5" font-size="11.4" fill="#151515" stroke="#151515" stroke-width="0.5" text-anchor="middle">08, 14:00</text>
<text x="387.56" y="748.5" font-size="11.4" fill="#151515" stroke="#151515" stroke-width="0.5" text-anchor="middle">08, 16:00</text>
<text x="455.2" y="748.5" font-size="11.4" fill="#151515" stroke="#151515" stroke-width="0.5" text-anchor="middle">08, 18:00</text>
<text x="522.84" y="748.5" font-size="11.4" fill="#151515" stroke="#151515" stroke-width="0.5" text-anchor="middle">08, 20:00</text>
<text x="590.48" y="748.5" font-size="11.4" fill="#151515" stroke="#151515" stroke-width="0.5" text-anchor="middle">08, 22:00</text>
<text x="658.12" y="748.5" font-size="11.4" fill="#151515" stroke="#151515" stroke-width="0.5" text-anchor="middle">09, 00:00</text>
<text x="725.76" y="748.5" font-size="11.4" fill="#151515" stroke="#151515" stroke-width="0.5" text-anchor="middle">09, 02:00</text>
<text x="793.4" y="748.5" font-size="11.4" fill="#151515" stroke="#151515" stroke-width="0.5" text-anchor="middle">09, 04:00</text>
<text x="861.04" y="748.5" font-size="11.4" fill="#151515" stroke="#151515" stroke-width="0.5" text-anchor="middle">09, 06:00</text>
<text x="928.68" y="748.5" font-size="11.4" fill="#151515" stroke="#151515" stroke-width="0.5" text-anchor="middle">09, 08:00</text>
<text x="996.32" y="748.5" font-size="11.4" fill="#151515" stroke="#151515" stroke-width="0.5" text-anchor="middle">09, 10:00</text>
<text x="1063.96" y="748.5" font-size="11.4" fill="#151515" stroke="#151515" stroke-width="0.5" text-anchor="middle">09, 12:00</text>
<rect x="72" y="755" width="1057" height="45" fill="#fafbfe"/>
<path d="M72 800 L72.0 760.0 L80.0 759.6 L93.0 759.0 L110.0 759.4 L127.0 760.0 L132.0 758.5 L137.0 756.0 L150.0 755.4 L170.0 754.3 L185.0 753.8 L193.0 753.3 L200.0 754.6 L210.0 757.0 L225.0 758.6 L243.0 760.0 L260.0 760.6 L277.0 761.3 L295.0 761.8 L310.0 762.3 L325.0 761.2 L343.0 760.2 L352.0 761.8 L360.0 763.3 L375.0 764.6 L393.0 765.7 L410.0 765.0 L427.0 764.0 L440.0 764.3 L450.0 762.6 L457.0 761.7 L463.0 763.0 L467.0 765.0 L472.0 768.5 L477.0 772.3 L488.0 775.0 L500.0 777.3 L510.0 776.0 L520.0 777.4 L533.0 778.3 L548.0 779.2 L560.0 780.0 L563.0 778.0 L575.0 778.6 L590.0 779.0 L602.0 780.2 L613.0 781.0 L620.0 779.8 L627.0 779.0 L642.0 778.6 L657.0 778.3 L662.0 779.4 L667.0 780.0 L678.0 780.6 L690.0 781.0 L705.0 781.2 L723.0 781.0 L740.0 780.2 L757.0 779.5 L775.0 779.2 L790.0 779.0 L808.0 778.6 L823.0 778.5 L840.0 778.8 L850.0 778.3 L860.0 777.2 L867.0 775.7 L872.0 773.0 L877.0 771.0 L888.0 771.6 L900.0 772.0 L915.0 772.6 L933.0 773.3 L950.0 775.6 L967.0 778.0 L985.0 780.0 L1000.0 781.7 L1017.0 783.6 L1033.0 785.0 L1050.0 786.0 L1067.0 786.7 L1085.0 787.2 L1100.0 787.5 L1115.0 787.2 L1129.0 787.0 L1129 800 Z" fill="#e7ebf8"/>
<path d="M72.0 760.0 L80.0 759.6 L93.0 759.0 L110.0 759.4 L127.0 760.0 L132.0 758.5 L137.0 756.0 L150.0 755.4 L170.0 754.3 L185.0 753.8 L193.0 753.3 L200.0 754.6 L210.0 757.0 L225.0 758.6 L243.0 760.0 L260.0 760.6 L277.0 761.3 L295.0 761.8 L310.0 762.3 L325.0 761.2 L343.0 760.2 L352.0 761.8 L360.0 763.3 L375.0 764.6 L393.0 765.7 L410.0 765.0 L427.0 764.0 L440.0 764.3 L450.0 762.6 L457.0 761.7 L463.0 763.0 L467.0 765.0 L472.0 768.5 L477.0 772.3 L488.0 775.0 L500.0 777.3 L510.0 776.0 L520.0 777.4 L533.0 778.3 L548.0 779.2 L560.0 780.0 L563.0 778.0 L575.0 778.6 L590.0 779.0 L602.0 780.2 L613.0 781.0 L620.0 779.8 L627.0 779.0 L642.0 778.6 L657.0 778.3 L662.0 779.4 L667.0 780.0 L678.0 780.6 L690.0 781.0 L705.0 781.2 L723.0 781.0 L740.0 780.2 L757.0 779.5 L775.0 779.2 L790.0 779.0 L808.0 778.6 L823.0 778.5 L840.0 778.8 L850.0 778.3 L860.0 777.2 L867.0 775.7 L872.0 773.0 L877.0 771.0 L888.0 771.6 L900.0 772.0 L915.0 772.6 L933.0 773.3 L950.0 775.6 L967.0 778.0 L985.0 780.0 L1000.0 781.7 L1017.0 783.6 L1033.0 785.0 L1050.0 786.0 L1067.0 786.7 L1085.0 787.2 L1100.0 787.5 L1115.0 787.2 L1129.0 787.0" fill="none" stroke="#c4c0e4" stroke-width="1.4" stroke-linejoin="round"/>
<rect x="673.5" y="751" width="455.5" height="49" fill="#7d9bff" fill-opacity="0.11"/>
<rect x="673.5" y="733" width="455.5" height="18" fill="#8a7dff" fill-opacity="0.07"/>
<rect x="72" y="800" width="1057" height="1" fill="#eef0f6"/>
<rect x="666.8" y="763.5" width="13.6" height="18" rx="4" fill="#2b3345"/><rect x="671.5" y="769.0" width="1.1" height="7" fill="#ffffff" fill-opacity="0.75"/><rect x="674.5" y="769.0" width="1.1" height="7" fill="#ffffff" fill-opacity="0.75"/>
<rect x="1122.8" y="764.0" width="13.6" height="18" rx="4" fill="#2b3345"/><rect x="1127.5" y="769.5" width="1.1" height="7" fill="#ffffff" fill-opacity="0.75"/><rect x="1130.5" y="769.5" width="1.1" height="7" fill="#ffffff" fill-opacity="0.75"/>
<text x="17" y="797.3" font-size="24" fill="#8a90a8" fill-opacity="0.36" textLength="401" lengthAdjust="spacingAndGlyphs">© 2025 CoinGlass, all rights reserved</text>
<text x="956.5" y="797.3" font-size="24" fill="#8a90a8" fill-opacity="0.36" textLength="225" lengthAdjust="spacingAndGlyphs">2025-10-09 13:55:39</text>
</svg>
</body></html>
